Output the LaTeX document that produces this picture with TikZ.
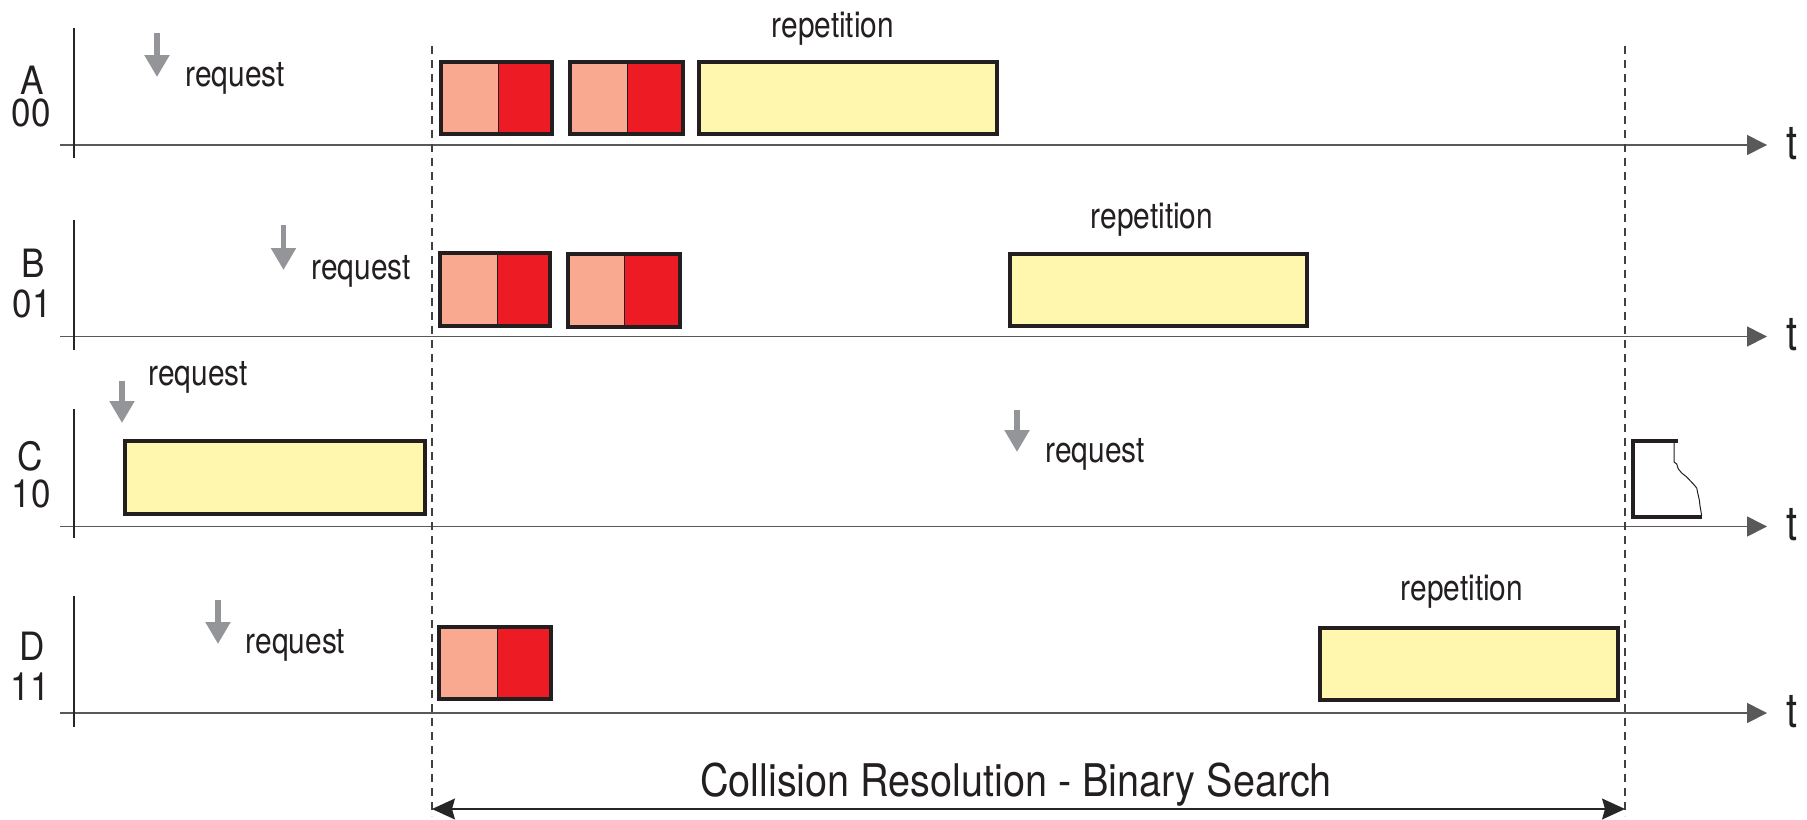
\documentclass[tikz,border=0pt]{standalone}
\usepackage{fontspec}
\setmainfont{TeX Gyre Heros}
\newfontfamily\lblfont{TeX Gyre Heros}[FakeStretch=0.83]
\newfontfamily\rowfont{TeX Gyre Heros}[FakeStretch=0.9]
\newfontfamily\ttlfont{TeX Gyre Heros}[FakeStretch=0.88]
\usetikzlibrary{arrows.meta}
\definecolor{salmon}{RGB}{248,169,143}
\definecolor{redbit}{RGB}{237,28,36}
\definecolor{paleyel}{RGB}{255,247,174}
\definecolor{edge}{RGB}{35,31,32}
\definecolor{reqgray}{RGB}{148,149,153}
\tikzset{
  lbl/.style={inner sep=0pt, font=\lblfont\fontsize{18}{20}\selectfont, text=edge},
  rowlbl/.style={inner sep=0pt, font=\rowfont\fontsize{19.5}{20}\selectfont, text=edge},
  tlbl/.style={inner sep=0pt, font=\lblfont\fontsize{24}{26}\selectfont, text=edge, anchor=base},
  haxis/.style={draw=black!65, line width=0.8pt, -{Triangle[length=10pt,width=10pt]}, black!65},
  vaxis/.style={draw=black!85, line width=0.55pt},
  reqarrow/.style={draw=reqgray, line width=2.6pt, -{Triangle[length=11pt,width=12pt]}, reqgray},
  boxline/.style={draw=edge, line width=2pt},
  divline/.style={draw=edge, line width=0.5pt},
  dashline/.style={draw=black!75, line width=0.65pt, dash pattern=on 4pt off 3pt},
  spanarrow/.style={draw=black!80, line width=0.65pt, {Stealth[length=11.5pt,width=10.5pt,inset=1.5pt]}-{Stealth[length=11.5pt,width=10.5pt,inset=1.5pt]}, black!85},
}
\begin{document}
\begin{tikzpicture}[x=0.5pt,y=-0.5pt]
\useasboundingbox (0,0) rectangle (1807,819);
% axes
\foreach \n/\y/\top/\bot in {A/145/28/158, B/336.5/220/350, C/526.5/409/538, D/713/596/727}{
  \coordinate (\n hs) at (60,\y);
  \coordinate (\n he) at (1767,\y);
  \coordinate (\n vt) at (74,\top);
  \coordinate (\n vb) at (74,\bot);
  \draw[haxis] (\n hs) -- (\n he);
  \draw[vaxis] (\n vt) -- (\n vb);
  \node[tlbl] (\n t) at (1792,\y+14) {t};
}
% row labels
\node[rowlbl] (labA) at (32,80.5) {A};
\node[rowlbl] (numA) at (31,113) {00};
\node[rowlbl] (labB) at (33,263) {B};
\node[rowlbl] (numB) at (32,304) {01};
\node[rowlbl] (labC) at (30,456.5) {C};
\node[rowlbl] (numC) at (31,494) {10};
\node[rowlbl] (labD) at (32.5,646.7) {D};
\node[rowlbl] (numD) at (30,687) {11};
% dashed boundaries
\coordinate (dL1) at (432,46);
\coordinate (dL2) at (432,816);
\coordinate (dR1) at (1625,46);
\coordinate (dR2) at (1625,816);
\draw[dashline] (dL1) -- (dL2);
\draw[dashline] (dR1) -- (dR2);
% request arrows and labels
\coordinate (rA1) at (157,33);   \coordinate (rA2) at (157,77);
\coordinate (rB1) at (283.5,225);\coordinate (rB2) at (283.5,270);
\coordinate (rC1) at (122,381);  \coordinate (rC2) at (122,423);
\coordinate (rE1) at (1017,410); \coordinate (rE2) at (1017,452);
\coordinate (rD1) at (218,600);  \coordinate (rD2) at (218,644);
\foreach \r in {A,B,C,E,D}{\draw[reqarrow] (r\r1) -- (r\r2);}
\node[lbl, anchor=base west] (reqA) at (185,86) {request};
\node[lbl, anchor=base west] (reqB) at (311,279) {request};
\node[lbl, anchor=base west] (reqC) at (148,385) {request};
\node[lbl, anchor=base west] (reqE) at (1045,462) {request};
\node[lbl, anchor=base west] (reqD) at (245.5,653) {request};
% repetition labels
\node[lbl, anchor=base] (repA) at (833,37) {repetition};
\node[lbl, anchor=base] (repB) at (1152,228) {repetition};
\node[lbl, anchor=base] (repD) at (1462,600) {repetition};
% Row A boxes
\fill[salmon] (441,62) rectangle (498,134);
\fill[redbit] (498,62) rectangle (552,134);
\draw[divline] (498,62) -- (498,134);
\draw[boxline] (441,62) rectangle (552,134);
\fill[salmon] (570,62) rectangle (627,134);
\fill[redbit] (627,62) rectangle (682.5,134);
\draw[divline] (627,62) -- (627,134);
\draw[boxline] (570,62) rectangle (682.5,134);
\draw[boxline, fill=paleyel] (699,62) rectangle (997,134);
% Row B boxes
\fill[salmon] (440,253) rectangle (497,326);
\fill[redbit] (497,253) rectangle (550,326);
\draw[divline] (497,253) -- (497,326);
\draw[boxline] (440,253) rectangle (550,326);
\fill[salmon] (568,254) rectangle (624.6,327);
\fill[redbit] (624.6,254) rectangle (680,327);
\draw[divline] (624.6,254) -- (624.6,327);
\draw[boxline] (568,254) rectangle (680,327);
\draw[boxline, fill=paleyel] (1010,254) rectangle (1307,326);
% Row C boxes
\draw[boxline, fill=paleyel] (125,441) rectangle (425,514);
\draw[boxline] (1678,441) -- (1632.5,441) -- (1632.5,516.5) -- (1702,516.5);
\draw[draw=edge, line width=0.5pt] (1674,441) -- (1674,462) -- (1676.7,464) -- (1678.3,469) -- (1681.7,473) -- (1686.7,477) -- (1693.3,484) -- (1696.7,488) -- (1697.7,493) -- (1699.3,500) -- (1700,506) -- (1700.7,510) -- (1701.7,516);
% Row D boxes
\fill[salmon] (439,627) rectangle (497,699);
\fill[redbit] (497,627) rectangle (551,699);
\draw[divline] (497,627) -- (497,699);
\draw[boxline] (439,627) rectangle (551,699);
\draw[boxline, fill=paleyel] (1320,628) rectangle (1618,700);
% span arrow and title
\coordinate (spL) at (432,809);
\coordinate (spR) at (1625,809);
\draw[spanarrow] (spL) -- (spR);
\node[inner sep=0pt, anchor=base, font=\ttlfont\fontsize{22.5}{25}\selectfont, text=edge] (title) at (1016,796) {Collision Resolution - Binary Search};
\end{tikzpicture}
\end{document}
